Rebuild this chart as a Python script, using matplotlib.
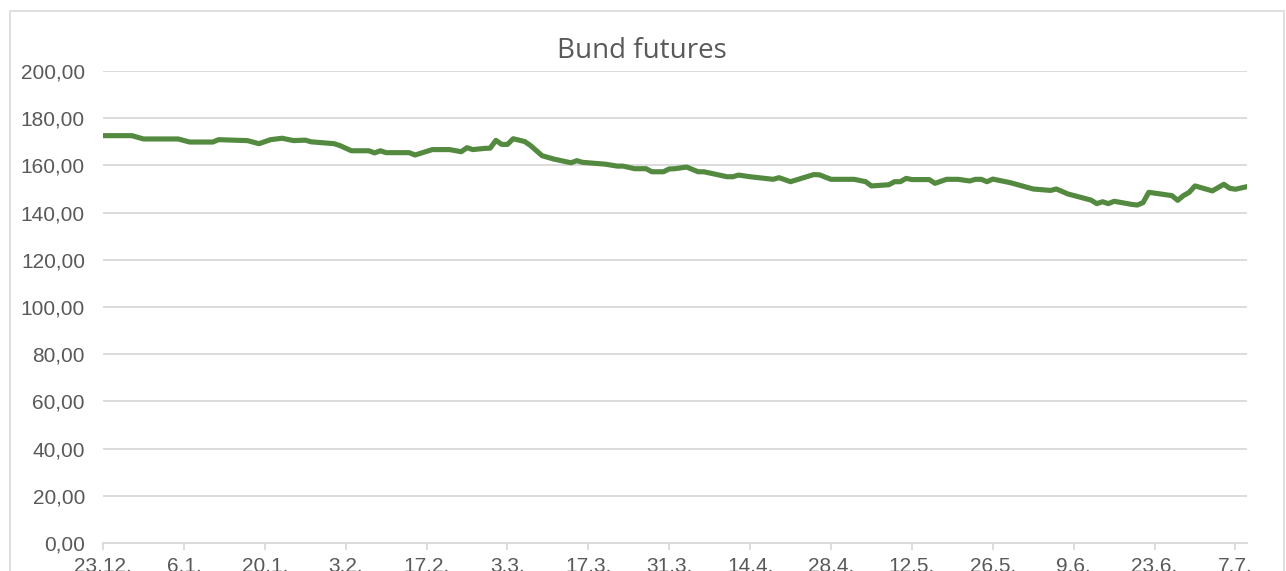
import matplotlib.pyplot as plt
import matplotlib.dates as mdates
import pandas as pd
from matplotlib.patches import Rectangle

# Bund futures (dates, closing values)
dates = [
    "2021-12-23", "2021-12-28", "2021-12-30", "2022-01-05", "2022-01-07", "2022-01-11",
    "2022-01-12", "2022-01-17", "2022-01-19", "2022-01-21", "2022-01-23", "2022-01-25",
    "2022-01-27", "2022-01-28", "2022-02-01", "2022-02-02", "2022-02-04", "2022-02-07",
    "2022-02-08", "2022-02-09", "2022-02-10", "2022-02-14", "2022-02-15", "2022-02-18",
    "2022-02-21", "2022-02-23", "2022-02-24", "2022-02-25", "2022-02-27", "2022-02-28",
    "2022-03-01", "2022-03-02", "2022-03-03", "2022-03-04", "2022-03-06", "2022-03-07",
    "2022-03-09", "2022-03-11", "2022-03-14", "2022-03-15", "2022-03-16", "2022-03-18",
    "2022-03-20", "2022-03-22", "2022-03-23", "2022-03-25", "2022-03-27", "2022-03-28",
    "2022-03-30", "2022-03-31", "2022-04-01", "2022-04-03", "2022-04-05", "2022-04-06",
    "2022-04-10", "2022-04-11", "2022-04-12", "2022-04-14", "2022-04-18", "2022-04-19",
    "2022-04-21", "2022-04-25", "2022-04-26", "2022-04-28", "2022-05-02", "2022-05-04",
    "2022-05-05", "2022-05-08", "2022-05-09", "2022-05-10", "2022-05-11", "2022-05-12",
    "2022-05-15", "2022-05-16", "2022-05-18", "2022-05-20", "2022-05-22", "2022-05-23",
    "2022-05-24", "2022-05-25", "2022-05-26", "2022-05-29", "2022-06-02", "2022-06-05",
    "2022-06-06", "2022-06-08", "2022-06-12", "2022-06-13", "2022-06-14", "2022-06-15",
    "2022-06-16", "2022-06-19", "2022-06-20", "2022-06-21", "2022-06-22", "2022-06-26",
    "2022-06-27", "2022-06-28", "2022-06-29", "2022-06-30", "2022-07-03", "2022-07-05",
    "2022-07-06", "2022-07-07", "2022-07-09",
]
values = [
    172.6, 172.6, 171.2, 171.2, 169.9, 169.9,
    170.9, 170.5, 169.2, 170.9, 171.5, 170.5,
    170.7, 170.0, 169.2, 168.4, 166.2, 166.2,
    165.3, 166.2, 165.4, 165.4, 164.4, 166.7,
    166.7, 165.8, 167.5, 166.7, 167.2, 167.3,
    170.6, 168.9, 168.9, 171.3, 170.1, 168.4,
    164.1, 162.7, 161.1, 162.0, 161.3, 160.9,
    160.5, 159.7, 159.7, 158.6, 158.6, 157.3,
    157.3, 158.5, 158.6, 159.3, 157.3, 157.3,
    155.2, 155.2, 155.9, 155.2, 154.1, 154.8,
    153.1, 156.1, 156.0, 154.1, 154.1, 153.1,
    151.3, 151.8, 153.1, 153.1, 154.5, 154.0,
    154.0, 152.4, 154.1, 154.1, 153.4, 154.1,
    154.1, 153.1, 154.2, 152.7, 150.0, 149.4,
    150.0, 147.9, 145.3, 143.8, 144.6, 143.8,
    144.8, 143.5, 143.2, 144.2, 148.6, 147.2,
    145.2, 147.2, 148.6, 151.3, 149.2, 152.0,
    150.3, 149.9, 151.0,
]
x_start = "2021-12-23"
x_end = "2022-07-09"
y_ticks = [0, 20, 40, 60, 80, 100, 120, 140, 160, 180, 200]

x = pd.to_datetime(dates)

fig = plt.figure(figsize=(12.86, 5.71), dpi=100)
# chart area border
fig.patches.append(Rectangle((10 / 1286, -0.1), 1274 / 1286, 1.1 - 11 / 571,
                             transform=fig.transFigure, fill=False,
                             edgecolor="#D9D9D9", linewidth=1.2))

ax = fig.add_axes([103 / 1286, 1 - 543 / 571, 1144 / 1286, 472 / 571])
ax.plot(x, values, color="#538A3F", linewidth=3.7, solid_joinstyle="round")

ax.set_ylim(0, 200)
ax.set_yticks(y_ticks)
ax.set_yticklabels([f"{v:.2f}".replace(".", ",") for v in y_ticks])
ax.set_xlim(pd.Timestamp(x_start), pd.Timestamp(x_end))
ax.set_xticks(pd.date_range(x_start, x_end, freq="14D"))
ax.xaxis.set_major_formatter(plt.FuncFormatter(
    lambda v, p: f"{mdates.num2date(v).day}.{mdates.num2date(v).month}."))

ax.grid(axis="y", color="#D9D9D9", linewidth=1.3)
ax.set_axisbelow(True)
for s in ["top", "right", "left"]:
    ax.spines[s].set_visible(False)
ax.spines["bottom"].set_color("#D9D9D9")
ax.spines["bottom"].set_linewidth(1.3)
ax.tick_params(axis="y", length=0, pad=13, labelsize=15, labelcolor="#595959",
               labelfontfamily="Liberation Sans")
ax.tick_params(axis="x", length=5, color="#D9D9D9", width=1.3, pad=5, labelsize=15,
               labelcolor="#595959", labelfontfamily="Liberation Sans")

fig.text(642 / 1286, 1 - 51 / 571, "Bund futures", ha="center", va="center",
         fontsize=20, color="#595959", family="Open Sans")

fig.savefig("out.png", dpi=100)
